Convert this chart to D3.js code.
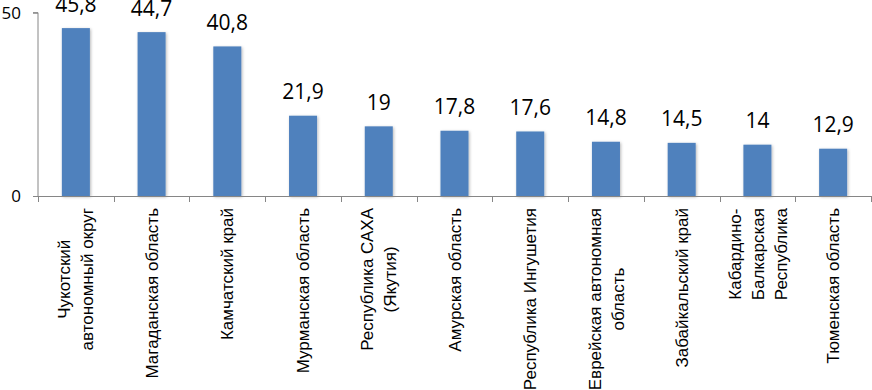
<!DOCTYPE html>
<html>
<head>
<meta charset="utf-8">
<script src="https://cdn.jsdelivr.net/npm/d3@7"></script>
<style>
    html, body { margin: 0; padding: 0; background: #fff; }
    #chart { width: 872px; height: 390px; overflow: hidden; }
</style>
</head>
<body>
<div id="chart"></div>
<script>
// Regions (multi-line labels as the source shows them)
const regions = [
    ['Чукотский', 'автономный округ'],
    ['Магаданская область'],
    ['Камчатский край'],
    ['Мурманская область'],
    ['Республика САХА', '(Якутия)'],
    ['Амурская область'],
    ['Республика Ингушетия'],
    ['Еврейская автономная', 'область'],
    ['Забайкальский край'],
    ['Кабардино-', 'Балкарская', 'Республика'],
    ['Тюменская область']
];
const values = [45.8, 44.7, 40.8, 21.9, 19, 17.8, 17.6, 14.8, 14.5, 14, 12.9];
const yTicks = [0, 50];

/**
 * Draws the bar chart
 * @param {string} containerId - The ID of the container element
 */
function drawChart(containerId) {
    const width = 872;
    const height = 390;
    const margin = { left: 38, right: 1, top: 12.7, bottom: 194 };

    const svg = d3.select('#' + containerId)
        .append('svg')
        .attr('width', width)
        .attr('height', height);

    const idx = d3.range(values.length);

    const x = d3.scaleBand()
        .domain(idx)
        .range([margin.left, width - margin.right])
        .paddingInner(0.63)
        .paddingOuter(0.315);

    const y = d3.scaleLinear()
        .domain([0, 50])
        .range([height - margin.bottom, margin.top]);

    const axisColor = '#868686';

    // Shadow filter for the bars
    const defs = svg.append('defs');
    const f = defs.append('filter').attr('id', 'shadow')
        .attr('x', '-30%').attr('y', '-10%').attr('width', '160%').attr('height', '120%');
    f.append('feDropShadow')
        .attr('dx', 1).attr('dy', 1).attr('stdDeviation', 1.6)
        .attr('flood-color', '#000').attr('flood-opacity', 0.28);

    // Bars
    svg.append('g')
        .selectAll('rect')
        .data(idx)
        .enter()
        .append('rect')
        .attr('x', i => x(i))
        .attr('y', i => y(values[i]))
        .attr('width', x.bandwidth())
        .attr('height', i => y(0) - y(values[i]))
        .attr('fill', '#4f81bd')
        .attr('filter', 'url(#shadow)');

    // Value labels
    svg.append('g')
        .selectAll('text')
        .data(idx)
        .enter()
        .append('text')
        .attr('x', i => x(i) + x.bandwidth() / 2)
        .attr('y', i => y(values[i]) - 16.5)
        .attr('text-anchor', 'middle')
        .attr('font-family', '"Open Sans", sans-serif')
        .attr('font-size', '21px')
        .attr('fill', '#000')
        .text(i => String(values[i]).replace('.', ','));

    // Y axis
    const yAxis = d3.axisLeft(y)
        .tickValues(yTicks)
        .tickSize(5)
        .tickPadding(12)
        .tickFormat(d3.format('d'));

    const gy = svg.append('g')
        .attr('transform', `translate(${margin.left},0)`)
        .call(yAxis);
    gy.select('.domain').attr('stroke', axisColor).attr('d', `M-5,${y(50)}H0V${y(0)}`);
    gy.selectAll('.tick line').attr('stroke', axisColor);
    gy.selectAll('.tick text')
        .attr('font-family', '"Open Sans", sans-serif')
        .attr('font-size', '17px')
        .attr('fill', '#000');

    // X axis line and tick marks at band boundaries
    const step = x.step();
    const bounds = d3.range(values.length + 1).map(i => margin.left + i * step);
    const gx = svg.append('g');
    gx.append('line')
        .attr('x1', margin.left)
        .attr('x2', width - margin.right)
        .attr('y1', y(0) + 0.5)
        .attr('y2', y(0) + 0.5)
        .attr('stroke', axisColor);
    gx.selectAll('.xtick')
        .data(bounds)
        .enter()
        .append('line')
        .attr('class', 'xtick')
        .attr('x1', d => Math.round(d) + 0.5)
        .attr('x2', d => Math.round(d) + 0.5)
        .attr('y1', y(0))
        .attr('y2', y(0) + 6)
        .attr('stroke', axisColor);

    // Category labels, rotated, lines centred on the longest one
    const lineGap = 23;
    const labelTop = 208;
    const labels = svg.append('g')
        .selectAll('g')
        .data(idx)
        .enter()
        .append('g')
        .attr('transform', i => `translate(${x(i) + x.bandwidth() / 2},0) rotate(-90)`);

    labels.each(function (i) {
        const g = d3.select(this);
        const lines = regions[i];
        const texts = g.selectAll('text')
            .data(lines)
            .enter()
            .append('text')
            .attr('text-anchor', 'middle')
            .attr('font-family', '"Liberation Sans", Arial, sans-serif')
            .attr('font-size', '17px')
            .attr('fill', '#000')
            .attr('y', (d, k) => (k - (lines.length - 1) / 2) * lineGap)
            .attr('dy', '0.36em')
            .text(d => d);
        let maxW = 0;
        texts.each(function () { maxW = Math.max(maxW, this.getComputedTextLength()); });
        texts.attr('x', -(labelTop + maxW / 2));
    });
}

drawChart('chart');
</script>
</body>
</html>
